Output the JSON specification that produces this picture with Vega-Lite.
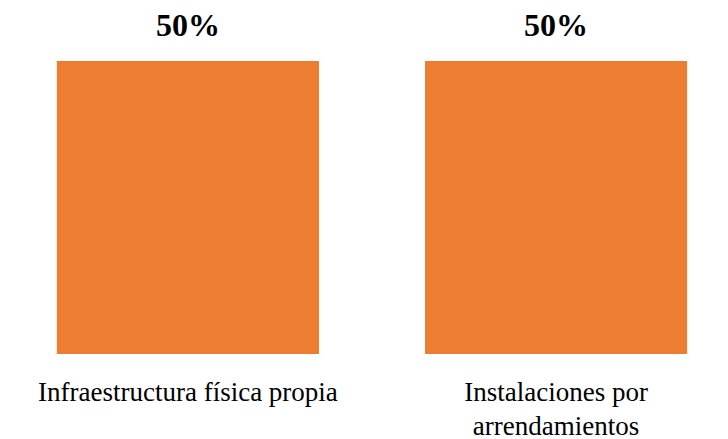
{
  "$schema": "https://vega.github.io/schema/vega-lite/v6.json",
  "width": 712,
  "height": 293,
  "padding": {"left": 16, "right": 0, "top": 61, "bottom": 85},
  "autosize": {"type": "none"},
  "background": "white",
  "config": {"view": {"stroke": null}, "font": "Liberation Serif"},
  "data": {"values": [
    {"categoria": "Infraestructura física propia", "porcentaje": 0.5},
    {"categoria": "Instalaciones por|arrendamientos", "porcentaje": 0.5}
  ]},
  "encoding": {
    "x": {"field": "categoria", "type": "nominal", "sort": null,
      "scale": {"paddingInner": 0.288, "paddingOuter": 0.111},
      "axis": {"title": null, "labelAngle": 0, "domain": false, "ticks": false,
        "labelFont": "Times New Roman, Liberation Serif, serif", "labelFontSize": 27, "labelColor": "#000000",
        "labelLimit": 0, "labelPadding": 25, "labelLineHeight": 34,
        "labelExpr": "split(datum.label, '|')"}},
    "y": {"field": "porcentaje", "type": "quantitative",
      "scale": {"domain": [0, 0.5]}, "axis": null}
  },
  "layer": [
    {"mark": {"type": "bar", "color": "#ED7D31"}},
    {"mark": {"type": "text", "font": "Liberation Serif", "fontSize": 32, "fontWeight": "bold",
      "color": "#000000", "baseline": "alphabetic", "dy": -25},
     "encoding": {"text": {"field": "porcentaje", "type": "quantitative", "format": ".0%"}}}
  ]
}
